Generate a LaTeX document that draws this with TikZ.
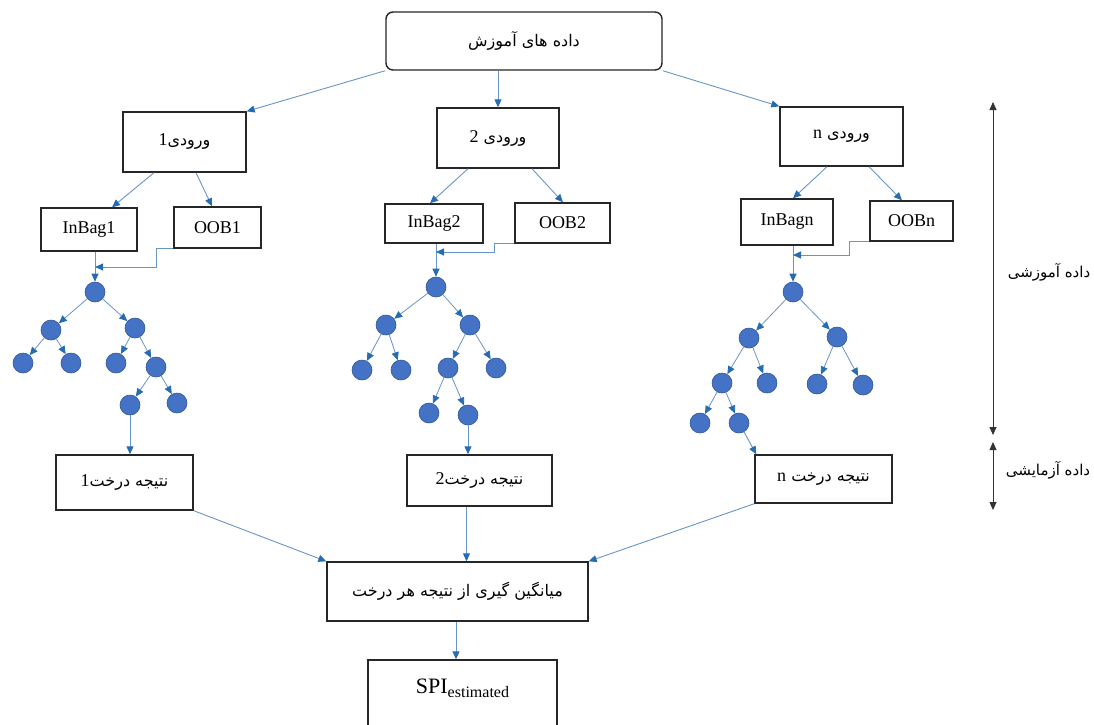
\documentclass[tikz,border=0pt]{standalone}
\usepackage{fontspec}
\setmainfont{Liberation Serif}
\newfontfamily\fafont[Script=Arabic]{DejaVu Sans}
\TeXXeTstate=1
\usetikzlibrary{arrows.meta,calc}
\definecolor{lineblue}{RGB}{105,148,200}
\definecolor{headblue}{RGB}{38,108,178}
\definecolor{nodeblue}{RGB}{68,114,196}
\definecolor{nodeedge}{RGB}{50,86,150}
\newcommand\FA[1]{{\fafont\fontsize{16}{19}\selectfont\beginR #1\endR}}
\newcommand\FS[1]{{\fafont\fontsize{15}{18}\selectfont\beginR #1\endR}}
\newcommand\LT[1]{{\rmfamily\fontsize{18}{21}\selectfont #1}}
\tikzset{
  box/.style={draw=black!85, line width=1.4pt, fill=white, inner sep=0pt, align=center,
              font=\fontsize{18}{21}\selectfont},
  topbox/.style={box, rounded corners=7pt},
  conn/.style={draw=lineblue, line width=0.9pt, -{Triangle[length=8pt,width=7pt,color=headblue]}},
  tedge/.style={draw=lineblue, line width=0.8pt, -{Triangle[length=8pt,width=7pt,color=headblue]}},
  tn/.style={circle, fill=nodeblue, draw=nodeedge, line width=0.6pt, minimum size=20pt, inner sep=0pt},
  darr/.style={draw=black!80, line width=0.8pt, {Triangle[length=8pt,width=7pt]}-{Triangle[length=8pt,width=7pt]}},
  sidelabel/.style={inner sep=0pt}
}
\begin{document}
\begin{tikzpicture}[x=1pt,y=-1pt]
\useasboundingbox (0,0) rectangle (1094,724);
% boxes
\node[topbox, minimum width=276pt, minimum height=58pt] (top) at (524,41) {\FA{داده های آموزش}};
\node[box, minimum width=123pt, minimum height=60pt] (in1) at (184.5,142) {\FA{ورودی\LT{1}}};
\node[box, minimum width=122pt, minimum height=60pt] (in2) at (498,138) {\FA{ورودی \LT{2}}};
\node[box, minimum width=123pt, minimum height=59pt] (inn) at (841.5,136.5) {\FA{ورودی \LT{n}}};
\node[box, minimum width=96pt, minimum height=43pt] (ib1) at (89,229.5) {InBag1};
\node[box, minimum width=87pt, minimum height=41pt] (oob1) at (217.5,227.5) {OOB1};
\node[box, minimum width=98pt, minimum height=39pt] (ib2) at (434,223.5) {InBag2};
\node[box, minimum width=95pt, minimum height=40pt] (oob2) at (562.5,223) {OOB2};
\node[box, minimum width=92pt, minimum height=46pt] (ibn) at (787,222) {InBagn};
\node[box, minimum width=83pt, minimum height=40pt] (oobn) at (911.5,221) {OOBn};
\node[box, minimum width=137pt, minimum height=55pt] (r1) at (124.5,482.5) {\FA{نتیجه درخت\LT{1}}};
\node[box, minimum width=145pt, minimum height=51pt] (r2) at (479.5,480.5) {\FA{نتیجه درخت\LT{2}}};
\node[box, minimum width=137pt, minimum height=48pt] (rn) at (823.5,479) {\FA{نتیجه درخت \LT{n}}};
\node[box, minimum width=261pt, minimum height=59pt] (avg) at (457.5,591.5) {\FA{میانگین گیری از نتیجه هر درخت}};
\node[box, minimum width=189pt, minimum height=70pt] (spi) at (462.5,695) {};
\node[inner sep=0pt] (spitxt) at (462.5,688) {\fontsize{22}{26}\selectfont SPI\raisebox{-4pt}{\fontsize{16}{19}\selectfont estimated}};
% top connectors
\draw[conn] (top.south west) -- (in1.north east);
\draw[conn] (in2.north |- top.south) -- (in2.north);
\draw[conn] (top.south east) -- (inn.north west);
% input to bags
\draw[conn] ($(in1.south)+(-30.5,0)$) -- ($(ib1.north)+(23,0)$);
\draw[conn] ($(in1.south)+(11.5,0)$) -- ($(oob1.north)+(-5.5,0)$);
\draw[conn] ($(in2.south)+(-30,0)$) -- ($(ib2.north)+(-4,0)$);
\draw[conn] ($(in2.south)+(34,0)$) -- ($(oob2.north)+(0.5,0)$);
\draw[conn] ($(inn.south)+(-14.5,0)$) -- ($(ibn.north)+(6,0)$);
\draw[conn] ($(inn.south)+(27.5,0)$) -- ($(oobn.north)+(-9.5,0)$);
% tree 1
\node[tn] (t1r) at (95,292) {};
\node[tn] (t1a) at (51,330) {};
\node[tn] (t1b) at (135,328) {};
\node[tn] (t1aa) at (23,363) {};
\node[tn] (t1ab) at (71,363) {};
\node[tn] (t1ba) at (116,363) {};
\node[tn] (t1bb) at (156,367) {};
\node[tn] (t1bba) at (130,405) {};
\node[tn] (t1bbb) at (177,403) {};
\foreach \p/\c in {t1r/t1a,t1r/t1b,t1a/t1aa,t1a/t1ab,t1b/t1ba,t1b/t1bb,t1bb/t1bba,t1bb/t1bbb}
  \draw[tedge] (\p) -- (\c);
\coordinate (e1) at (95,267);
\draw[conn] (ib1.south -| t1r) -- (t1r);
\draw[conn] (oob1.south west) -- ++(-17,0) |- (e1);
\draw[conn] (t1bba) -- (t1bba |- r1.north);
% tree 2
\node[tn] (t2r) at (436,287) {};
\node[tn] (t2a) at (386,325) {};
\node[tn] (t2b) at (470,325) {};
\node[tn] (t2aa) at (362,370) {};
\node[tn] (t2ab) at (401,370) {};
\node[tn] (t2ba) at (448,368) {};
\node[tn] (t2bb) at (496,368) {};
\node[tn] (t2baa) at (429,413) {};
\node[tn] (t2bab) at (468,415) {};
\foreach \p/\c in {t2r/t2a,t2r/t2b,t2a/t2aa,t2a/t2ab,t2b/t2ba,t2b/t2bb,t2ba/t2baa,t2ba/t2bab}
  \draw[tedge] (\p) -- (\c);
\coordinate (e2) at (436,252);
\draw[conn] (ib2.south -| t2r) -- (t2r);
\draw[conn] (oob2.south west) -- ++(-20,0) |- (e2);
\draw[conn] (t2bab) -- (t2bab |- r2.north);
% tree n
\node[tn] (tnr) at (793,292) {};
\node[tn] (tna) at (749,338) {};
\node[tn] (tnb) at (837,337) {};
\node[tn] (tnaa) at (722,383) {};
\node[tn] (tnab) at (767,383) {};
\node[tn] (tnba) at (817,384) {};
\node[tn] (tnbb) at (863,385) {};
\node[tn] (tnaaa) at (700,423) {};
\node[tn] (tnaab) at (739,423) {};
\foreach \p/\c in {tnr/tna,tnr/tnb,tna/tnaa,tna/tnab,tnb/tnba,tnb/tnbb,tnaa/tnaaa,tnaa/tnaab}
  \draw[tedge] (\p) -- (\c);
\coordinate (en) at (793,255);
\draw[conn] (ibn.south -| tnr) -- (tnr);
\draw[conn] (oobn.south west) -- ++(-20,0) |- (en);
\draw[conn] (tnaab) -- ($(rn.north west)+(2,0)$);
% bottom
\draw[conn] (r1.south east) -- (avg.north west);
\draw[conn] ($(r2.south)+(-13,0)$) coordinate (q1) -- (q1 |- avg.north);
\draw[conn] (rn.south west) -- (avg.north east);
\draw[conn] ($(avg.south)+(-1.5,0)$) coordinate (q2) -- (q2 |- spi.north);
% side arrows
\coordinate (ra1) at (993,102);
\coordinate (ra2) at (993,435);
\coordinate (ra3) at (993,442);
\coordinate (ra4) at (993,510);
\draw[darr] (ra1) -- (ra2);
\draw[darr] (ra3) -- (ra4);
\node[sidelabel] (l1) at (1049,272) {\FS{داده آموزشی}};
\node[sidelabel] (l2) at (1048,470) {\FS{داده آزمایشی}};
\end{tikzpicture}
\end{document}
